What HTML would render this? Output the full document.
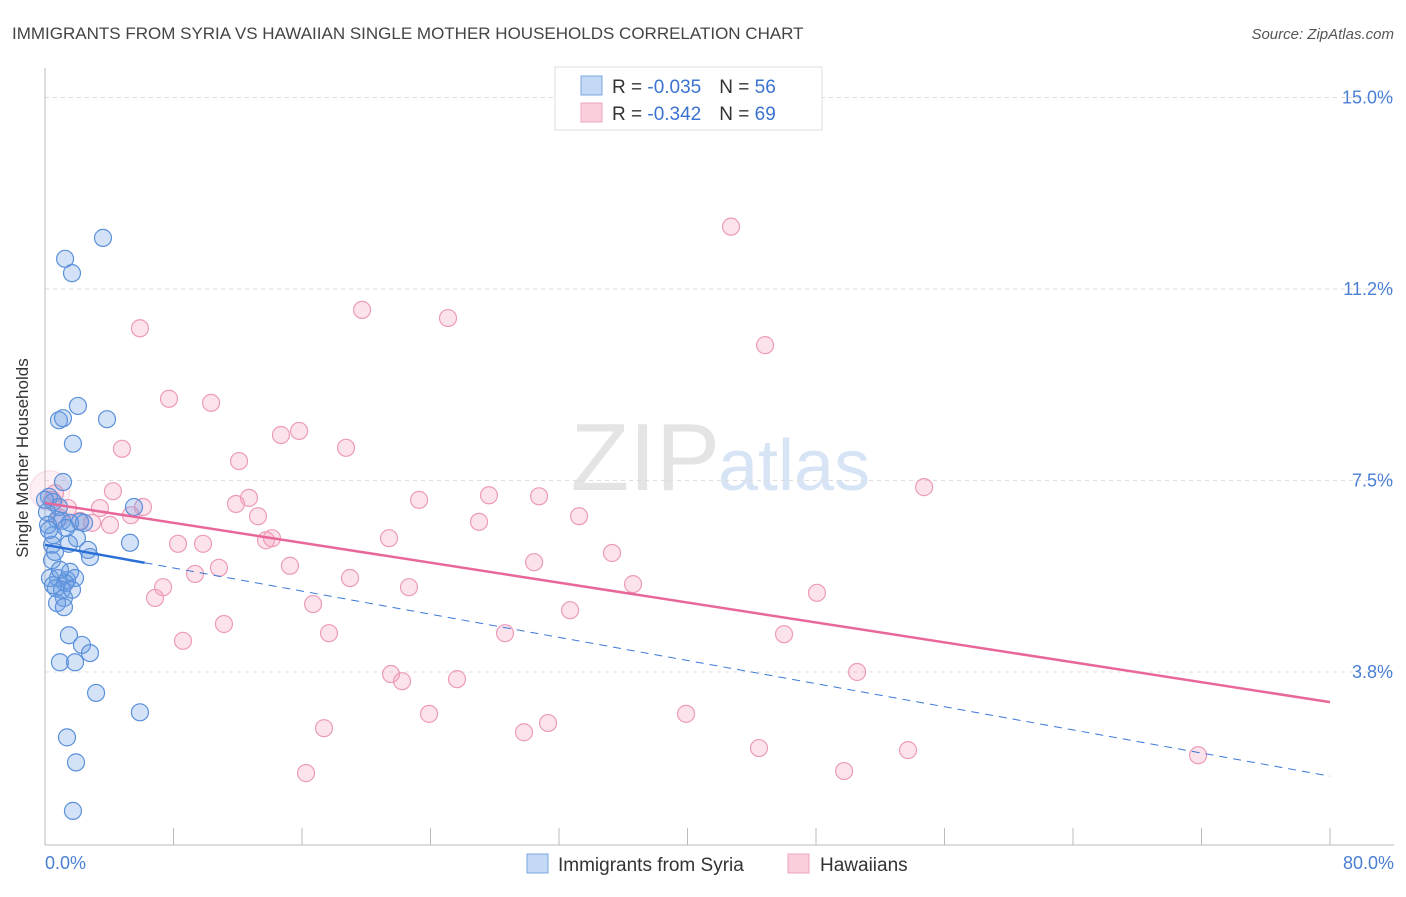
<!DOCTYPE html>
<html><head><meta charset="utf-8"><style>
body{margin:0;background:#fff;font-family:"Liberation Sans",sans-serif}
svg text{font-family:"Liberation Sans",sans-serif}
</style></head><body>
<svg id="c" width="1406" height="892" xmlns="http://www.w3.org/2000/svg">
<text x="12" y="39" font-size="17" fill="#444">IMMIGRANTS FROM SYRIA VS HAWAIIAN SINGLE MOTHER HOUSEHOLDS CORRELATION CHART</text>
<text x="1394" y="39" font-size="15" fill="#555" font-style="italic" text-anchor="end">Source: ZipAtlas.com</text>
<text x="720" y="490" font-size="96" fill="#e4e4e4" text-anchor="end" font-family="Liberation Serif">ZIP</text>
<text x="718" y="490" font-size="72" fill="#d6e4f5">atlas</text>
<g id="grid"></g>
<line x1="45" y1="68" x2="45" y2="845" stroke="#bbb"/>
<line x1="45" y1="845" x2="1394" y2="845" stroke="#bbb"/>
<g id="pts"></g>
<g id="lines"></g>
<text x="28" y="458" font-size="17" fill="#333" text-anchor="middle" transform="rotate(-90 28 458)">Single Mother Households</text>
<text x="45" y="869" font-size="18" fill="#4a7fd4">0.0%</text>
<text x="1394" y="869" font-size="18" fill="#4a7fd4" text-anchor="end">80.0%</text>
<g>
<rect x="555" y="67" width="267" height="63" fill="#fff" stroke="#ddd"/>
<rect x="581" y="76" width="21" height="19" fill="#c4d9f5" stroke="#7aa6e0"/>
<rect x="581" y="103" width="21" height="19" fill="#f9cfdc" stroke="#eea3bd"/>
<text x="612" y="93" font-size="19" fill="#333">R = <tspan fill="#3b73d1">-0.035</tspan><tspan dx="18">N = </tspan><tspan fill="#3b73d1">56</tspan></text>
<text x="612" y="120" font-size="19" fill="#333">R = <tspan fill="#3b73d1">-0.342</tspan><tspan dx="18">N = </tspan><tspan fill="#3b73d1">69</tspan></text>
</g>
<g>
<rect x="527" y="854" width="21" height="19" fill="#c4d9f5" stroke="#7aa6e0"/>
<text x="558" y="871" font-size="19" fill="#333">Immigrants from Syria</text>
<rect x="788" y="854" width="21" height="19" fill="#f9cfdc" stroke="#eea3bd"/>
<text x="820" y="871" font-size="19" fill="#333">Hawaiians</text>
</g>
</svg>
<script>
const yTicks=[3.75,7.5,11.25,15];
const yTickLabels=["3.8%","7.5%","11.2%","15.0%"];
const xTicks=[0,8,16,24,32,40,48,56,64,72,80];
const blueX=[3.61,1.25,1.68,2.05,0.87,1.12,3.86,1.74,1.12,0.25,0.50,0.87,0.12,0.75,1.06,2.18,1.99,0.50,0.44,1.49,5.29,2.68,2.80,0.44,0.31,0.81,1.37,1.87,1.56,1.25,0.68,1.06,1.18,0.75,1.18,1.49,2.30,2.80,0.93,1.87,3.18,5.91,1.37,1.93,1.74,5.54,1.56,0.19,1.31,0.50,1.68,0.93,0.25,0.62,0,2.43];
const blueY=[12.25,11.84,11.56,8.96,8.68,8.72,8.70,8.22,7.47,7.18,7.08,6.98,6.88,6.73,6.71,6.69,6.37,6.43,6.24,6.26,6.28,6.14,6.00,5.94,5.59,5.59,5.55,5.59,5.71,5.49,5.39,5.36,5.20,5.10,5.02,4.47,4.28,4.12,3.94,3.94,3.34,2.96,2.47,1.98,1.03,6.98,6.67,6.63,6.57,5.45,5.36,5.75,6.53,6.10,7.12,6.67];
const pinkX=[42.71,5.91,19.74,25.09,44.83,7.72,10.34,15.82,14.69,18.74,4.79,12.08,54.73,27.64,30.76,23.29,12.70,11.89,4.23,13.26,33.25,6.10,5.35,27.02,2.93,2.18,1.43,21.42,13.76,14.13,8.28,9.84,35.30,30.45,15.25,10.83,9.34,18.99,36.61,7.35,22.66,6.85,48.06,16.69,32.69,11.14,17.68,28.64,46.01,8.59,50.56,21.54,22.23,25.65,23.91,39.91,31.32,17.37,29.82,44.45,53.73,71.79,16.25,49.75,0.62,3.42,4.05,0.44,0.93];
const pinkY=[12.47,10.48,10.84,10.68,10.15,9.10,9.02,8.47,8.39,8.14,8.12,7.88,7.37,7.21,7.19,7.12,7.16,7.04,7.29,6.80,6.80,6.98,6.82,6.69,6.67,6.71,6.96,6.37,6.33,6.37,6.26,6.26,6.08,5.90,5.83,5.79,5.67,5.59,5.47,5.41,5.41,5.20,5.30,5.08,4.96,4.69,4.51,4.51,4.49,4.36,3.75,3.71,3.57,3.61,2.93,2.93,2.75,2.65,2.57,2.26,2.22,2.12,1.77,1.81,7.25,6.96,6.63,7.12,6.77];
const pinkLine=[7.06,3.16];
const blueLine=[6.24,1.71];
const blueSolidEnd=6.2;
const NS="http://www.w3.org/2000/svg";
const sx=v=>45+v/80*1285;
const sy=v=>863.5-v*51.07;
function mk(tag,attrs,parent){const e=document.createElementNS(NS,tag);for(const k in attrs)e.setAttribute(k,attrs[k]);parent.appendChild(e);return e;}
const grid=document.getElementById('grid');
yTicks.forEach((t,i)=>{
 const l=mk('line',{x1:45,x2:1394,y1:sy(t),y2:sy(t),stroke:'#ddd','stroke-dasharray':'4,4'},grid);
 
 
 const tx=mk('text',{x:1393,y:sy(t)+6,'font-size':18,fill:'#4a7fd4','text-anchor':'end'},grid);
 tx.textContent=yTickLabels[i];
 
 
});
xTicks.forEach(t=>{
 const l=mk('line',{x1:sx(t),x2:sx(t),y1:828,y2:845,stroke:'#bbb'},grid);
 
 
});
const pts=document.getElementById('pts');
const big=mk('circle',{cx:sx(0.3),cy:sy(7.3),r:20,fill:'rgba(240,150,180,0.15)',stroke:'rgba(234,143,176,0.3)'},pts);


pinkX.forEach((x,i)=>{
 const c=mk('circle',{cx:sx(x),cy:sy(pinkY[i]),r:8.5,fill:'rgba(244,160,190,0.3)',stroke:'#ec9bb8','stroke-width':1.2},pts);
 
 
});
blueX.forEach((x,i)=>{
 const c=mk('circle',{cx:sx(x),cy:sy(blueY[i]),r:8.5,fill:'rgba(110,160,230,0.3)',stroke:'#5b90da','stroke-width':1.2},pts);
 
 
});
const lines=document.getElementById('lines');
const bl=v=>blueLine[0]+(blueLine[1]-blueLine[0])*v/80;
let l1=mk('line',{x1:sx(blueSolidEnd),y1:sy(bl(blueSolidEnd)),x2:sx(80),y2:sy(blueLine[1]),stroke:'#3b78d8','stroke-width':1,'stroke-dasharray':'8,6'},lines);


let l2=mk('line',{x1:sx(0),y1:sy(blueLine[0]),x2:sx(blueSolidEnd),y2:sy(bl(blueSolidEnd)),stroke:'#2a6fd6','stroke-width':2.5},lines);


let l3=mk('line',{x1:sx(0),y1:sy(pinkLine[0]),x2:sx(80),y2:sy(pinkLine[1]),stroke:'#e8679a','stroke-width':2.5},lines);


</script>
</body></html>
